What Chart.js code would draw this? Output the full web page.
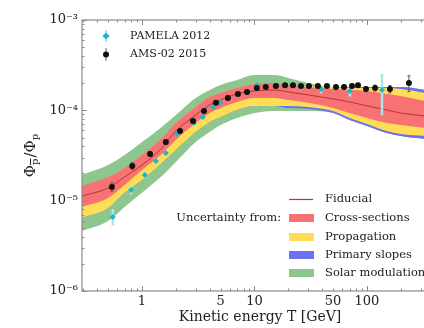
<!DOCTYPE html>
<html lang="en">
<head>
<meta charset="UTF-8">
<title>Antiproton to proton ratio</title>
<script src="https://cdn.jsdelivr.net/npm/chart.js@4.4.0/dist/chart.umd.min.js"></script>
<style>
  html, body { margin: 0; padding: 0; background: #fff; overflow: hidden; }
  #wrap { width: 424px; height: 328px; overflow: hidden; }
  canvas { display: block; }
</style>
</head>
<body>
<div id="wrap"><canvas id="ratioChart" width="460" height="328"></canvas></div>
<script>
// model grid (kinetic energy, GeV) and band edges of the p-bar/p ratio
const energy   = [0.29, 0.5, 0.7, 1, 1.5, 2, 3, 4, 5, 7, 10, 15, 20, 30, 50, 70, 100, 150, 200, 330];
const fiducial = [1.12e-5, 1.38e-5, 1.83e-5, 2.48e-5, 3.83e-5, 5.90e-5, 8.88e-5, 1.15e-4, 1.30e-4, 1.52e-4, 1.64e-4, 1.68e-4, 1.60e-4, 1.48e-4, 1.34e-4, 1.24e-4, 1.12e-4, 1.01e-4, 9.34e-5, 8.66e-5];
const xsecHi   = [1.45e-5, 1.83e-5, 2.30e-5, 3.20e-5, 4.94e-5, 7.24e-5, 1.09e-4, 1.41e-4, 1.56e-4, 1.77e-4, 1.96e-4, 2.01e-4, 1.91e-4, 1.81e-4, 1.72e-4, 1.68e-4, 1.64e-4, 1.52e-4, 1.44e-4, 1.27e-4];
const xsecLo   = [8.51e-6, 1.07e-5, 1.49e-5, 2.18e-5, 3.28e-5, 4.70e-5, 7.24e-5, 9.34e-5, 1.06e-4, 1.24e-4, 1.37e-4, 1.37e-4, 1.30e-4, 1.21e-4, 1.06e-4, 9.34e-5, 8.23e-5, 7.24e-5, 6.88e-5, 6.37e-5];
const propHi   = [1.45e-5, 1.83e-5, 2.30e-5, 3.20e-5, 4.94e-5, 7.24e-5, 1.09e-4, 1.41e-4, 1.56e-4, 1.77e-4, 1.96e-4, 2.01e-4, 1.91e-4, 1.86e-4, 1.81e-4, 1.77e-4, 1.77e-4, 1.77e-4, 1.72e-4, 1.56e-4];
const propLo   = [6.43e-6, 8.30e-6, 1.22e-5, 1.69e-5, 2.61e-5, 3.64e-5, 5.75e-5, 7.43e-5, 8.44e-5, 1.01e-4, 1.12e-4, 1.12e-4, 1.12e-4, 1.09e-4, 9.83e-5, 8.23e-5, 7.06e-5, 5.90e-5, 5.47e-5, 5.20e-5];
const slopeHi  = [1.45e-5, 1.83e-5, 2.30e-5, 3.20e-5, 4.94e-5, 7.24e-5, 1.09e-4, 1.41e-4, 1.56e-4, 1.77e-4, 1.96e-4, 2.01e-4, 1.91e-4, 1.86e-4, 1.81e-4, 1.81e-4, 1.81e-4, 1.81e-4, 1.81e-4, 1.68e-4];
const slopeLo  = [6.43e-6, 8.30e-6, 1.22e-5, 1.69e-5, 2.61e-5, 3.64e-5, 5.75e-5, 7.43e-5, 8.44e-5, 1.01e-4, 1.12e-4, 1.12e-4, 1.06e-4, 1.035e-4, 9.34e-5, 7.82e-5, 6.71e-5, 5.61e-5, 5.20e-5, 4.82e-5];
const solarHi  = [1.92e-5, 2.48e-5, 3.20e-5, 4.46e-5, 6.54e-5, 8.88e-5, 1.37e-4, 1.68e-4, 1.91e-4, 2.17e-4, 2.46e-4, 2.46e-4, 2.28e-4, 2.01e-4, 1.81e-4, 1.81e-4, 1.81e-4, 1.81e-4, 1.81e-4, 1.68e-4];
const solarLo  = [4.61e-6, 5.96e-6, 8.51e-6, 1.22e-5, 1.87e-5, 2.68e-5, 4.46e-5, 5.75e-5, 6.88e-5, 8.23e-5, 9.34e-5, 9.83e-5, 9.83e-5, 9.83e-5, 9.34e-5, 7.82e-5, 6.71e-5, 5.61e-5, 5.20e-5, 4.82e-5];

// measurements
const amsEnergy = [0.54, 0.82, 1.18, 1.63, 2.18, 2.84, 3.56, 4.55, 5.81, 7.13, 8.58, 10.5, 12.6, 15.5, 18.7, 22.0, 25.9, 30.5, 36.6, 44.1, 53.0, 62.5, 73.6, 83.2, 98.0, 118, 160, 236];
const amsRatio  = [1.42e-5, 2.42e-5, 3.29e-5, 4.46e-5, 5.90e-5, 7.62e-5, 9.84e-5, 1.21e-4, 1.37e-4, 1.52e-4, 1.60e-4, 1.77e-4, 1.81e-4, 1.86e-4, 1.90e-4, 1.90e-4, 1.86e-4, 1.86e-4, 1.86e-4, 1.86e-4, 1.81e-4, 1.81e-4, 1.86e-4, 1.90e-4, 1.72e-4, 1.77e-4, 1.72e-4, 2.01e-4];
const amsErr    = [1.5e-6, 2e-6, 2e-6, 2.5e-6, 3e-6, 3.5e-6, 4e-6, 4.5e-6, 5e-6, 5e-6, 5e-6, 5.5e-6, 5.5e-6, 6e-6, 6e-6, 6.5e-6, 6.5e-6, 7e-6, 7e-6, 7.5e-6, 8e-6, 8.5e-6, 9e-6, 1e-5, 1.1e-5, 1.3e-5, 1.6e-5, 4e-5];

const pamEnergy = [0.55, 0.80, 1.06, 1.33, 1.63, 2.05, 2.90, 3.48, 4.28, 4.94, 10.5, 15.9, 26.4, 39.0, 70.6, 136];
const pamRatio  = [6.59e-6, 1.31e-5, 1.92e-5, 2.75e-5, 3.37e-5, 5.47e-5, 7.24e-5, 8.43e-5, 1.09e-4, 1.21e-4, 1.90e-4, 1.90e-4, 1.81e-4, 1.72e-4, 1.64e-4, 1.68e-4];
const pamErrLo  = [1.3e-6, 1.5e-6, 1.5e-6, 2e-6, 2e-6, 3e-6, 3e-6, 4e-6, 5e-6, 5e-6, 8e-6, 1e-5, 1.2e-5, 1.8e-5, 2.2e-5, 8e-5];
const pamErrHi  = [1.5e-6, 1.5e-6, 1.5e-6, 2e-6, 2e-6, 3e-6, 3e-6, 4e-6, 5e-6, 5e-6, 8e-6, 1e-5, 1.2e-5, 1.8e-5, 2.2e-5, 8.5e-5];

// axes
const yTicks = [1e-6, 1e-5, 1e-4, 1e-3];
const yTickLabels = ['10⁻⁶', '10⁻⁵', '10⁻⁴', '10⁻³'];
const xTicks = [1, 5, 10, 50, 100];
const xTickLabels = ['1', '5', '10', '50', '100'];

const SERIF = "'DejaVu Serif', serif";
const colors = {
    xsec: '#f77272',
    prop: '#ffdd55',
    slope: '#6f6ff2',
    solar: '#8dc78d',
    fiducial: '#b83434',
    pamela: '#1fb5c4',
    pamelaErr: '#a6e6ee',
    ams: '#111111'
};

const toPoints = (xs, ys) => xs.map((x, i) => ({ x: x, y: ys[i] }));

function edge(vals, color, fillNext) {
    return {
        data: toPoints(energy, vals),
        borderWidth: 0,
        borderColor: 'rgba(0,0,0,0)',
        backgroundColor: color,
        pointRadius: 0,
        cubicInterpolationMode: 'monotone',
        fill: fillNext ? '+1' : false
    };
}

// frame, inward tick marks, error bars, legends and y title
const decor = {
    id: 'decor',
    beforeDatasetDraw(chart, args) {
        const ds = chart.data.datasets[args.index];
        if (!ds.errLo) return;
        const { ctx, chartArea: a, scales: { x, y } } = chart;
        ctx.save();
        ctx.beginPath();
        ctx.rect(a.left, a.top, a.right - a.left, a.bottom - a.top);
        ctx.clip();
        ctx.strokeStyle = ds.errColor;
        ctx.lineWidth = ds.errWidth;
        ds.data.forEach((p, i) => {
            const px = x.getPixelForValue(p.x);
            const y0 = y.getPixelForValue(p.y - ds.errLo[i]);
            const y1 = y.getPixelForValue(p.y + ds.errHi[i]);
            ctx.beginPath();
            ctx.moveTo(px, y0);
            ctx.lineTo(px, y1);
            if (ds.errCap) {
                ctx.moveTo(px - ds.errCap, y0); ctx.lineTo(px + ds.errCap, y0);
                ctx.moveTo(px - ds.errCap, y1); ctx.lineTo(px + ds.errCap, y1);
            }
            ctx.stroke();
        });
        ctx.restore();
    },
    afterDraw(chart) {
        const { ctx, chartArea: a, scales: { x, y } } = chart;
        ctx.save();

        // frame
        ctx.strokeStyle = '#8a8a8a';
        ctx.lineWidth = 1.2;
        ctx.strokeRect(a.left, a.top, a.right - a.left, a.bottom - a.top);

        // log tick marks pointing inwards
        ctx.lineWidth = 1;
        ctx.strokeStyle = '#8a8a8a';
        ctx.beginPath();
        [0.1, 1, 10, 100].forEach(d => {
            for (let k = 1; k <= 9; k++) {
                const v = k * d;
                if (v < x.min || v > x.max) continue;
                const px = Math.round(x.getPixelForValue(v)) + 0.5;
                const len = k === 1 ? 5 : 2.5;
                ctx.moveTo(px, a.bottom); ctx.lineTo(px, a.bottom - len);
                ctx.moveTo(px, a.top); ctx.lineTo(px, a.top + len);
            }
        });
        [1e-6, 1e-5, 1e-4].forEach(d => {
            for (let k = 1; k <= 10; k++) {
                const v = k * d;
                if (v < y.min || v > y.max) continue;
                const py = Math.round(y.getPixelForValue(v)) + 0.5;
                const len = (k === 1 || k === 10) ? 5 : 2.5;
                ctx.moveTo(a.left, py); ctx.lineTo(a.left + len, py);
            }
        });
        ctx.stroke();

        // y axis title: Φ_p̄ / Φ_p, rotated
        ctx.save();
        ctx.translate(30, 155);
        ctx.rotate(-Math.PI / 2);
        ctx.fillStyle = '#222';
        ctx.textBaseline = 'alphabetic';
        const big = '15px ' + SERIF, small = '10px ' + SERIF;
        const parts = [['Φ', big, 0], ['p', small, 3, true], ['/', big, 0], ['Φ', big, 0], ['p', small, 3]];
        let total = 0;
        parts.forEach(p => { ctx.font = p[1]; p.w = ctx.measureText(p[0]).width + (p[1] === small ? 1 : 0); total += p.w; });
        let cx = -total / 2;
        parts.forEach(p => {
            ctx.font = p[1];
            ctx.fillText(p[0], cx, 5 + p[2]);
            if (p[3]) {
                ctx.fillRect(cx, 5 + p[2] - 8, p.w - 1, 1);
            }
            cx += p.w;
        });
        ctx.restore();

        // data legend, upper left
        ctx.font = '11px ' + SERIF;
        ctx.textBaseline = 'middle';
        ctx.fillStyle = '#222';
        ctx.lineWidth = 2;
        ctx.strokeStyle = colors.pamelaErr;
        ctx.beginPath(); ctx.moveTo(106, 30); ctx.lineTo(106, 42); ctx.stroke();
        ctx.fillStyle = colors.pamela;
        ctx.beginPath();
        ctx.moveTo(106, 32.5); ctx.lineTo(109.5, 36); ctx.lineTo(106, 39.5); ctx.lineTo(102.5, 36);
        ctx.closePath(); ctx.fill();
        ctx.lineWidth = 1;
        ctx.strokeStyle = '#666';
        ctx.beginPath(); ctx.moveTo(106, 48); ctx.lineTo(106, 61); ctx.stroke();
        ctx.fillStyle = colors.ams;
        ctx.beginPath(); ctx.arc(106, 54.5, 3, 0, Math.PI * 2); ctx.fill();
        ctx.fillStyle = '#222';
        ctx.fillText('PAMELA 2012', 130, 36);
        ctx.fillText('AMS-02 2015', 130, 54.5);

        // model legend, lower right
        ctx.font = '11.5px ' + SERIF;
        ctx.strokeStyle = colors.fiducial;
        ctx.lineWidth = 1.2;
        ctx.beginPath(); ctx.moveTo(289, 199.5); ctx.lineTo(313, 199.5); ctx.stroke();
        ctx.fillText('Fiducial', 325, 199);
        ctx.textAlign = 'right';
        ctx.fillText('Uncertainty from:', 281, 218);
        ctx.textAlign = 'left';
        const rows = [
            ['Cross-sections', colors.xsec, 218],
            ['Propagation', colors.prop, 237],
            ['Primary slopes', colors.slope, 255],
            ['Solar modulation', colors.solar, 273]
        ];
        rows.forEach(r => {
            ctx.fillStyle = r[1];
            ctx.fillRect(289, r[2] - 4, 25, 8);
            ctx.fillStyle = '#222';
            ctx.fillText(r[0], 325, r[2]);
        });

        ctx.restore();
    }
};

const ctx = document.getElementById('ratioChart').getContext('2d');
new Chart(ctx, {
    type: 'line',
    data: {
        datasets: [
            {
                data: toPoints(amsEnergy, amsRatio),
                showLine: false,
                pointRadius: 3,
                pointBackgroundColor: colors.ams,
                pointBorderWidth: 0,
                errLo: amsErr, errHi: amsErr,
                errColor: '#555', errWidth: 1, errCap: 1.5
            },
            {
                data: toPoints(pamEnergy, pamRatio),
                showLine: false,
                pointStyle: 'rectRot',
                pointRadius: 3,
                pointBackgroundColor: colors.pamela,
                pointBorderWidth: 0,
                errLo: pamErrLo, errHi: pamErrHi,
                errColor: colors.pamelaErr, errWidth: 2.5
            },
            {
                data: toPoints(energy, fiducial),
                borderColor: colors.fiducial,
                borderWidth: 1,
                pointRadius: 0,
                cubicInterpolationMode: 'monotone',
                fill: false
            },
            edge(xsecHi, colors.xsec, true),
            edge(xsecLo, colors.xsec, false),
            edge(propHi, colors.prop, true),
            edge(propLo, colors.prop, false),
            edge(slopeHi, colors.slope, true),
            edge(slopeLo, colors.slope, false),
            edge(solarHi, colors.solar, true),
            edge(solarLo, colors.solar, false)
        ]
    },
    options: {
        responsive: false,
        animation: false,
        devicePixelRatio: 1,
        layout: { padding: { top: 20, right: 22, bottom: 0, left: 0 } },
        plugins: {
            legend: { display: false },
            tooltip: { enabled: false }
        },
        scales: {
            x: {
                type: 'logarithmic',
                min: 0.293,
                max: 428,
                grid: { display: false, drawTicks: false },
                border: { display: false },
                afterBuildTicks: s => { s.ticks = xTicks.map(v => ({ value: v })); },
                afterFit: s => { s.height = 37; },
                ticks: {
                    padding: 3,
                    color: '#222',
                    font: { family: SERIF, size: 13 },
                    maxRotation: 0,
                    autoSkip: false,
                    callback: v => xTickLabels[xTicks.indexOf(v)]
                },
                title: {
                    display: true,
                    text: 'Kinetic energy T [GeV]',
                    color: '#222',
                    font: { family: SERIF, size: 14 },
                    padding: { top: 0, bottom: 2 }
                }
            },
            y: {
                type: 'logarithmic',
                min: 1e-6,
                max: 1e-3,
                grid: { display: false, drawTicks: false },
                border: { display: false },
                afterBuildTicks: s => { s.ticks = yTicks.map(v => ({ value: v })); },
                afterFit: s => { s.width = 82; },
                ticks: {
                    padding: 4,
                    color: '#222',
                    font: { family: SERIF, size: 13 },
                    autoSkip: false,
                    callback: v => yTickLabels[yTicks.indexOf(v)]
                }
            }
        }
    },
    plugins: [decor]
});
</script>
</body>
</html>
